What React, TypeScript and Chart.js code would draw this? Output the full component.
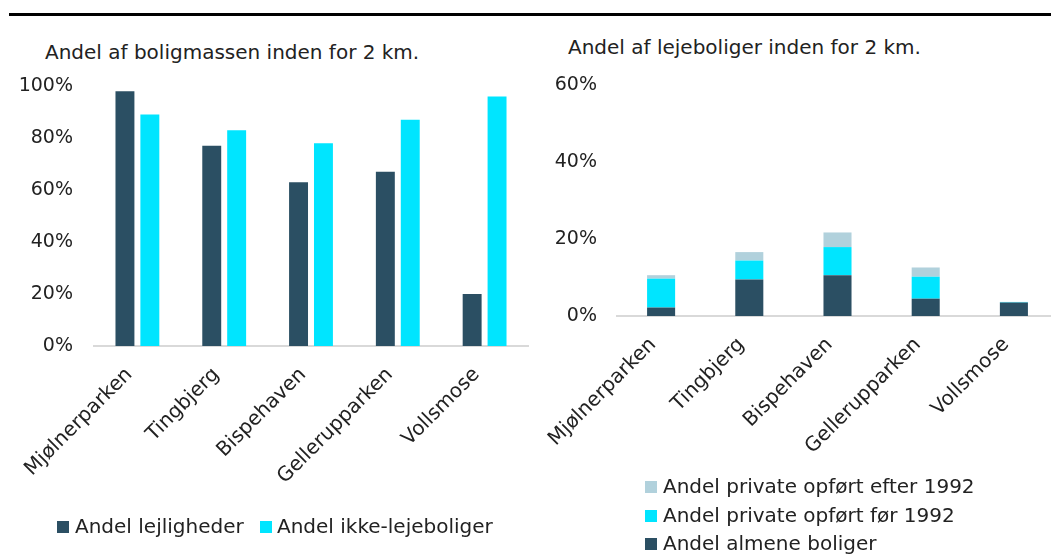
import React, { useEffect, useRef } from "react";
import { Chart, registerables } from "chart.js";

Chart.register(...registerables);

// ---------- data ----------
const categories = ["Mjølnerparken", "Tingbjerg", "Bispehaven", "Gellerupparken", "Vollsmose"];

const leftTitle = "Andel af boligmassen inden for 2 km.";
const leftSeriesNames = ["Andel lejligheder", "Andel ikke-lejeboliger"];
const shareApartments = [98, 77, 63, 67, 20];
const shareNonRental = [89, 83, 78, 87, 96];
const leftTickLabels = ["0%", "20%", "40%", "60%", "80%", "100%"];

const rightTitle = "Andel af lejeboliger inden for 2 km.";
const rightSeriesNames = ["Andel almene boliger", "Andel private opført før 1992", "Andel private opført efter 1992"];
const shareAlmene = [2.2, 9.5, 10.6, 4.5, 3.5];
const sharePrivateBefore = [7.5, 4.9, 7.3, 5.7, 0.15];
const sharePrivateAfter = [0.9, 2.2, 3.8, 2.4, 0];
const rightTickLabels = ["0%", "20%", "40%", "60%"];

const DARK = "#2b4f63";
const CYAN = "#00e5ff";
const LIGHT = "#b1d1dc";
const TEXT = "#222222";
const FONT = "DejaVu Sans";
const X_AXIS_HEIGHT = 170;

function baseOptions(max: number, tickLabels: string[], yWidth: number, yPad: number, rightPad: number, stacked: boolean) {
  return {
    responsive: false,
    animation: false as const,
    layout: { padding: { left: 0, top: 12, right: rightPad, bottom: 0 } },
    plugins: { legend: { display: false }, title: { display: false }, tooltip: { enabled: false } },
    scales: {
      x: {
        stacked,
        grid: { display: false, drawTicks: false },
        border: { display: true, color: "#d9d9d9", width: 2 },
        ticks: {
          autoSkip: false,
          maxRotation: 45,
          minRotation: 45,
          padding: 17,
          labelOffset: -8,
          color: TEXT,
          font: { family: FONT, size: 20 },
        },
        afterFit: (s: any) => {
          s.height = X_AXIS_HEIGHT;
          s.paddingLeft = 0;
          s.paddingRight = 0;
        },
      },
      y: {
        stacked,
        min: 0,
        max,
        grid: { display: false, drawTicks: false },
        border: { display: false },
        ticks: {
          stepSize: 20,
          padding: yPad,
          color: TEXT,
          font: { family: FONT, size: 19 },
          callback: (_v: any, i: number) => tickLabels[i],
        },
        afterFit: (s: any) => {
          s.width = yWidth;
          s.paddingTop = 0;
          s.paddingBottom = 0;
        },
      },
    },
  };
}

function Legend({ items }: { items: { x: number; textX: number; baseline: number; color: string; text: string }[] }) {
  return (
    <>
      {items.map((it, i) => (
        <React.Fragment key={i}>
          <div
            style={{
              position: "absolute",
              left: it.x,
              top: it.baseline - 12,
              width: 12,
              height: 12,
              background: it.color,
            }}
          />
          <div
            style={{
              position: "absolute",
              left: it.textX,
              top: it.baseline - 18.9,
              fontSize: 20,
              lineHeight: "24px",
              whiteSpace: "nowrap",
            }}
          >
            {it.text}
          </div>
        </React.Fragment>
      ))}
    </>
  );
}

export default function App() {
  const leftRef = useRef<HTMLCanvasElement>(null);
  const rightRef = useRef<HTMLCanvasElement>(null);

  useEffect(() => {
    const left = new Chart(leftRef.current!, {
      type: "bar",
      data: {
        labels: categories,
        datasets: [
          {
            label: leftSeriesNames[0],
            data: shareApartments,
            backgroundColor: DARK,
            categoryPercentage: 0.574,
            barPercentage: 0.76,
          },
          {
            label: leftSeriesNames[1],
            data: shareNonRental,
            backgroundColor: CYAN,
            categoryPercentage: 0.574,
            barPercentage: 0.76,
          },
        ],
      },
      options: baseOptions(100, leftTickLabels, 94, 21, 8, false) as any,
    });

    const right = new Chart(rightRef.current!, {
      type: "bar",
      data: {
        labels: categories,
        datasets: [
          { label: rightSeriesNames[0], data: shareAlmene, backgroundColor: DARK, categoryPercentage: 0.5, barPercentage: 0.636 },
          { label: rightSeriesNames[1], data: sharePrivateBefore, backgroundColor: CYAN, categoryPercentage: 0.5, barPercentage: 0.636 },
          { label: rightSeriesNames[2], data: sharePrivateAfter, backgroundColor: LIGHT, categoryPercentage: 0.5, barPercentage: 0.636 },
        ],
      },
      options: baseOptions(60, rightTickLabels, 77, 20, 0, true) as any,
    });

    return () => {
      left.destroy();
      right.destroy();
    };
  }, []);

  return (
    <div
      style={{
        position: "fixed",
        left: 0,
        top: 0,
        width: 1051,
        height: 560,
        background: "#fff",
        fontFamily: `"${FONT}"`,
        color: TEXT,
        overflow: "hidden",
      }}
    >
      <div style={{ position: "absolute", left: 9, top: 13, width: 1042, height: 2.5, background: "#000" }} />
      <div style={{ position: "absolute", left: 45, top: 40.4, fontSize: 20, lineHeight: "24px", whiteSpace: "nowrap" }}>
        {leftTitle}
      </div>
      <div style={{ position: "absolute", left: 568, top: 35.4, fontSize: 20, lineHeight: "24px", whiteSpace: "nowrap" }}>
        {rightTitle}
      </div>
      <canvas ref={leftRef} width={536} height={12 + 260 + X_AXIS_HEIGHT} style={{ position: "absolute", left: 0, top: 74 }} />
      <canvas ref={rightRef} width={518} height={12 + 231 + X_AXIS_HEIGHT} style={{ position: "absolute", left: 540, top: 73 }} />
      <Legend
        items={[
          { x: 57, textX: 75, baseline: 533, color: DARK, text: leftSeriesNames[0] },
          { x: 260, textX: 277, baseline: 533, color: CYAN, text: leftSeriesNames[1] },
        ]}
      />
      <Legend
        items={[
          { x: 645, textX: 663, baseline: 493.3, color: LIGHT, text: rightSeriesNames[2] },
          { x: 645, textX: 663, baseline: 521.7, color: CYAN, text: rightSeriesNames[1] },
          { x: 645, textX: 663, baseline: 550, color: DARK, text: rightSeriesNames[0] },
        ]}
      />
    </div>
  );
}
